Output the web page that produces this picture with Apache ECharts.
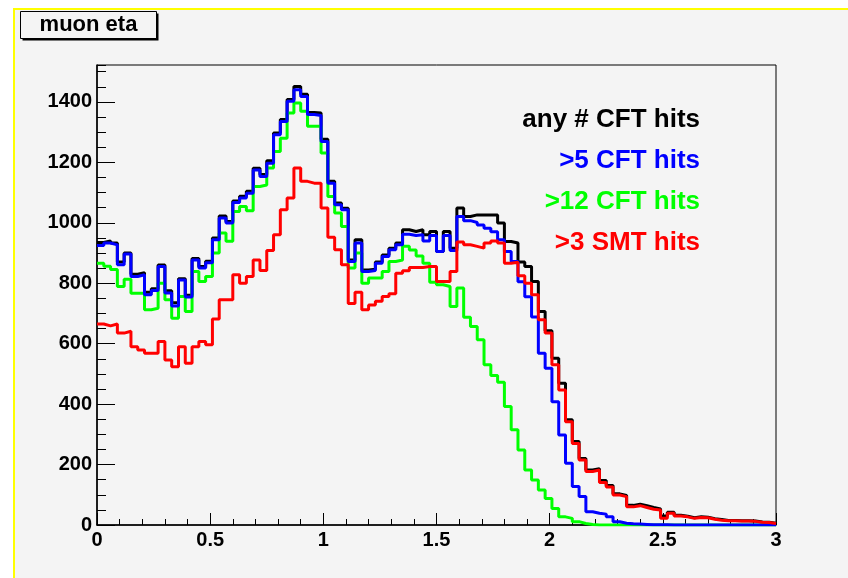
<!DOCTYPE html>
<html>
<head>
<meta charset="utf-8">
<script src="https://cdn.jsdelivr.net/npm/echarts@6/dist/echarts.min.js"></script>
<style>
html,body{margin:0;padding:0;background:#fff;}
#chart{width:848px;height:578px;}
</style>
</head>
<body>
<div id="chart"></div>
<script>
// Histogram: 100 bins of width 0.03 over eta in [0, 3]
const binWidth = 0.03;
const xTicks = ['0', '0.5', '1', '1.5', '2', '2.5', '3'];
const yTicks = [0, 200, 400, 600, 800, 1000, 1200, 1400];
const legendNames = ['any # CFT hits', '>5 CFT hits', '>12 CFT hits', '>3 SMT hits'];

const anyCFT = [935,940,933,870,900,830,835,770,782,860,
  775,735,815,760,882,855,873,950,1022,1004,
  1072,1088,1104,1180,1160,1205,1297,1342,1408,1451,
  1425,1365,1363,1276,1137,1065,1048,877,944,844,
  846,870,893,916,933,977,971,977,960,971,
  905,971,916,1049,1021,1026,1026,1026,1026,999,
  938,933,870,855,806,706,643,552,469,348,
  276,220,182,186,147,131,103,98,65,69,
  64,58,53,30,42,32,29,24,27,26,
  21,18,15,15,14,14,13,10,9,6];

const gt5CFT = [925,933,927,861,897,822,828,762,776,855,
  768,725,811,754,877,850,868,944,1016,999,
  1067,1082,1098,1175,1153,1197,1291,1335,1402,1440,
  1418,1358,1355,1269,1131,1060,1043,872,933,839,
  842,866,888,911,927,962,958,960,940,958,
  905,958,908,1021,1007,1001,993,982,970,944,
  905,872,805,755,688,568,519,408,298,204,
  127,94,44,39,36,27,11,6,4,3,
  2,1,1,1,0,0,0,0,0,0,
  0,0,0,0,0,0,0,0,0,0];

const gt12CFT = [866,856,845,789,813,767,767,712,717,800,
  745,684,756,706,839,806,822,900,966,939,
  1037,1054,1040,1120,1125,1181,1236,1280,1363,1396,
  1369,1319,1319,1231,1087,1032,988,850,900,800,
  817,817,839,872,877,922,910,890,866,803,
  795,789,723,784,687,657,613,530,495,472,
  392,315,248,182,149,116,88,55,27,22,
  11,5,2,0,0,0,0,0,0,0,
  0,0,0,0,0,0,0,0,0,0,
  0,0,0,0,0,0,0,0,0,0];

const gt3SMT = [665,659,665,635,641,590,579,568,568,607,
  546,524,590,535,590,607,596,682,745,745,
  828,800,822,877,842,908,960,1043,1082,1181,
  1137,1131,1131,1049,952,911,861,733,770,712,
  728,740,756,765,833,841,852,852,855,855,
  806,806,839,936,927,922,916,933,940,933,
  866,869,825,800,762,679,635,530,447,342,
  270,215,177,182,141,126,99,94,60,64,
  58,52,50,22,39,30,27,22,25,24,
  19,16,14,14,13,13,12,9,8,5];

function histPoints(vals) {
  const pts = vals.map((v, i) => [+(i * binWidth).toFixed(4), v]);
  pts.push([+(vals.length * binWidth).toFixed(4), vals[vals.length - 1]]);
  return pts;
}

const chart = echarts.init(document.getElementById('chart'), null, {renderer: 'canvas'});
const FONT = '"Liberation Sans", Arial, Helvetica, sans-serif';
const seriesDefs = [
  {name: legendNames[0], data: anyCFT, color: '#000000', z: 2},
  {name: legendNames[2], data: gt12CFT, color: '#00ff00', z: 3},
  {name: legendNames[1], data: gt5CFT, color: '#0000ff', z: 4},
  {name: legendNames[3], data: gt3SMT, color: '#ff0000', z: 5}
];
const legendColors = ['#000000', '#0000ff', '#00ff00', '#ff0000'];
const legendY = [120, 161, 202, 243];

const option = {
  animation: false,
  backgroundColor: '#ffffff',
  grid: {left: 97, right: 72, top: 65, bottom: 53, show: true, borderColor: '#000', borderWidth: 1, backgroundColor: 'transparent'},
  xAxis: [{
    type: 'value', min: 0, max: 3, interval: 0.5,
    axisLine: {show: true, onZero: false, lineStyle: {color: '#000', width: 1.5}},
    axisTick: {show: true, inside: true, length: 12, lineStyle: {color: '#000', width: 1}},
    minorTick: {show: true, splitNumber: 5, length: 6, lineStyle: {color: '#000', width: 1}},
    splitLine: {show: false},
    axisLabel: {color: '#000', fontFamily: FONT, fontWeight: 'bold', fontSize: 20, margin: 5,
      formatter: v => { const s = String(+v.toFixed(2)); return xTicks.indexOf(s) >= 0 ? s : ''; }}
  }],
  yAxis: [{
    type: 'value', min: 0, max: 1522, interval: 200,
    axisLine: {show: true, lineStyle: {color: '#000', width: 1.5}},
    axisTick: {show: true, inside: true, length: 18, lineStyle: {color: '#000', width: 1},
      customValues: yTicks},
    splitLine: {show: false},
    axisLabel: {color: '#000', fontFamily: FONT, fontWeight: 'bold', fontSize: 20, margin: 5,
      customValues: yTicks,
      formatter: v => (yTicks.indexOf(Math.round(v)) >= 0 && Math.abs(v - Math.round(v)) < 1e-6) ? String(Math.round(v)) : ''}
  }, {
    type: 'value', min: 0, max: 1522, interval: 50, position: 'left',
    axisLine: {show: false},
    axisTick: {show: true, inside: true, length: 9, lineStyle: {color: '#000', width: 1}},
    axisLabel: {show: false},
    splitLine: {show: false}
  }],
  series: seriesDefs.map(s => ({
    name: s.name, type: 'line', step: 'end', showSymbol: false, symbol: 'none',
    data: histPoints(s.data), z: s.z,
    lineStyle: {color: s.color, width: 3},
    itemStyle: {color: s.color}
  })),
  graphic: [
    {type: 'rect', z: -100, shape: {x: 13, y: 9, width: 835, height: 569}, style: {fill: '#f4f4f4'}, silent: true},
    {type: 'line', z: -99, shape: {x1: 13, y1: 9, x2: 848, y2: 9}, style: {stroke: '#ffff00', lineWidth: 2}, silent: true},
    {type: 'line', z: -99, shape: {x1: 14, y1: 9, x2: 14, y2: 578}, style: {stroke: '#ffff00', lineWidth: 2}, silent: true},
    {type: 'rect', z: 10, shape: {x: 22.5, y: 13.5, width: 136, height: 27}, style: {fill: '#000'}, silent: true},
    {type: 'rect', z: 11, shape: {x: 20.5, y: 11.5, width: 136, height: 27}, style: {fill: '#f4f4f4', stroke: '#000', lineWidth: 1}, silent: true},
    {type: 'text', z: 12, x: 88.5, y: 25, style: {text: 'muon eta', fill: '#000', font: 'bold 22px ' + FONT, align: 'center', verticalAlign: 'middle'}, silent: true}
  ].concat(legendNames.map((n, i) => ({
    type: 'text', z: 12, x: 700, y: legendY[i],
    style: {text: n, fill: legendColors[i], font: 'bold 26px ' + FONT, align: 'right', verticalAlign: 'middle'}, silent: true
  })))
};
chart.setOption(option);
</script>
</body>
</html>
